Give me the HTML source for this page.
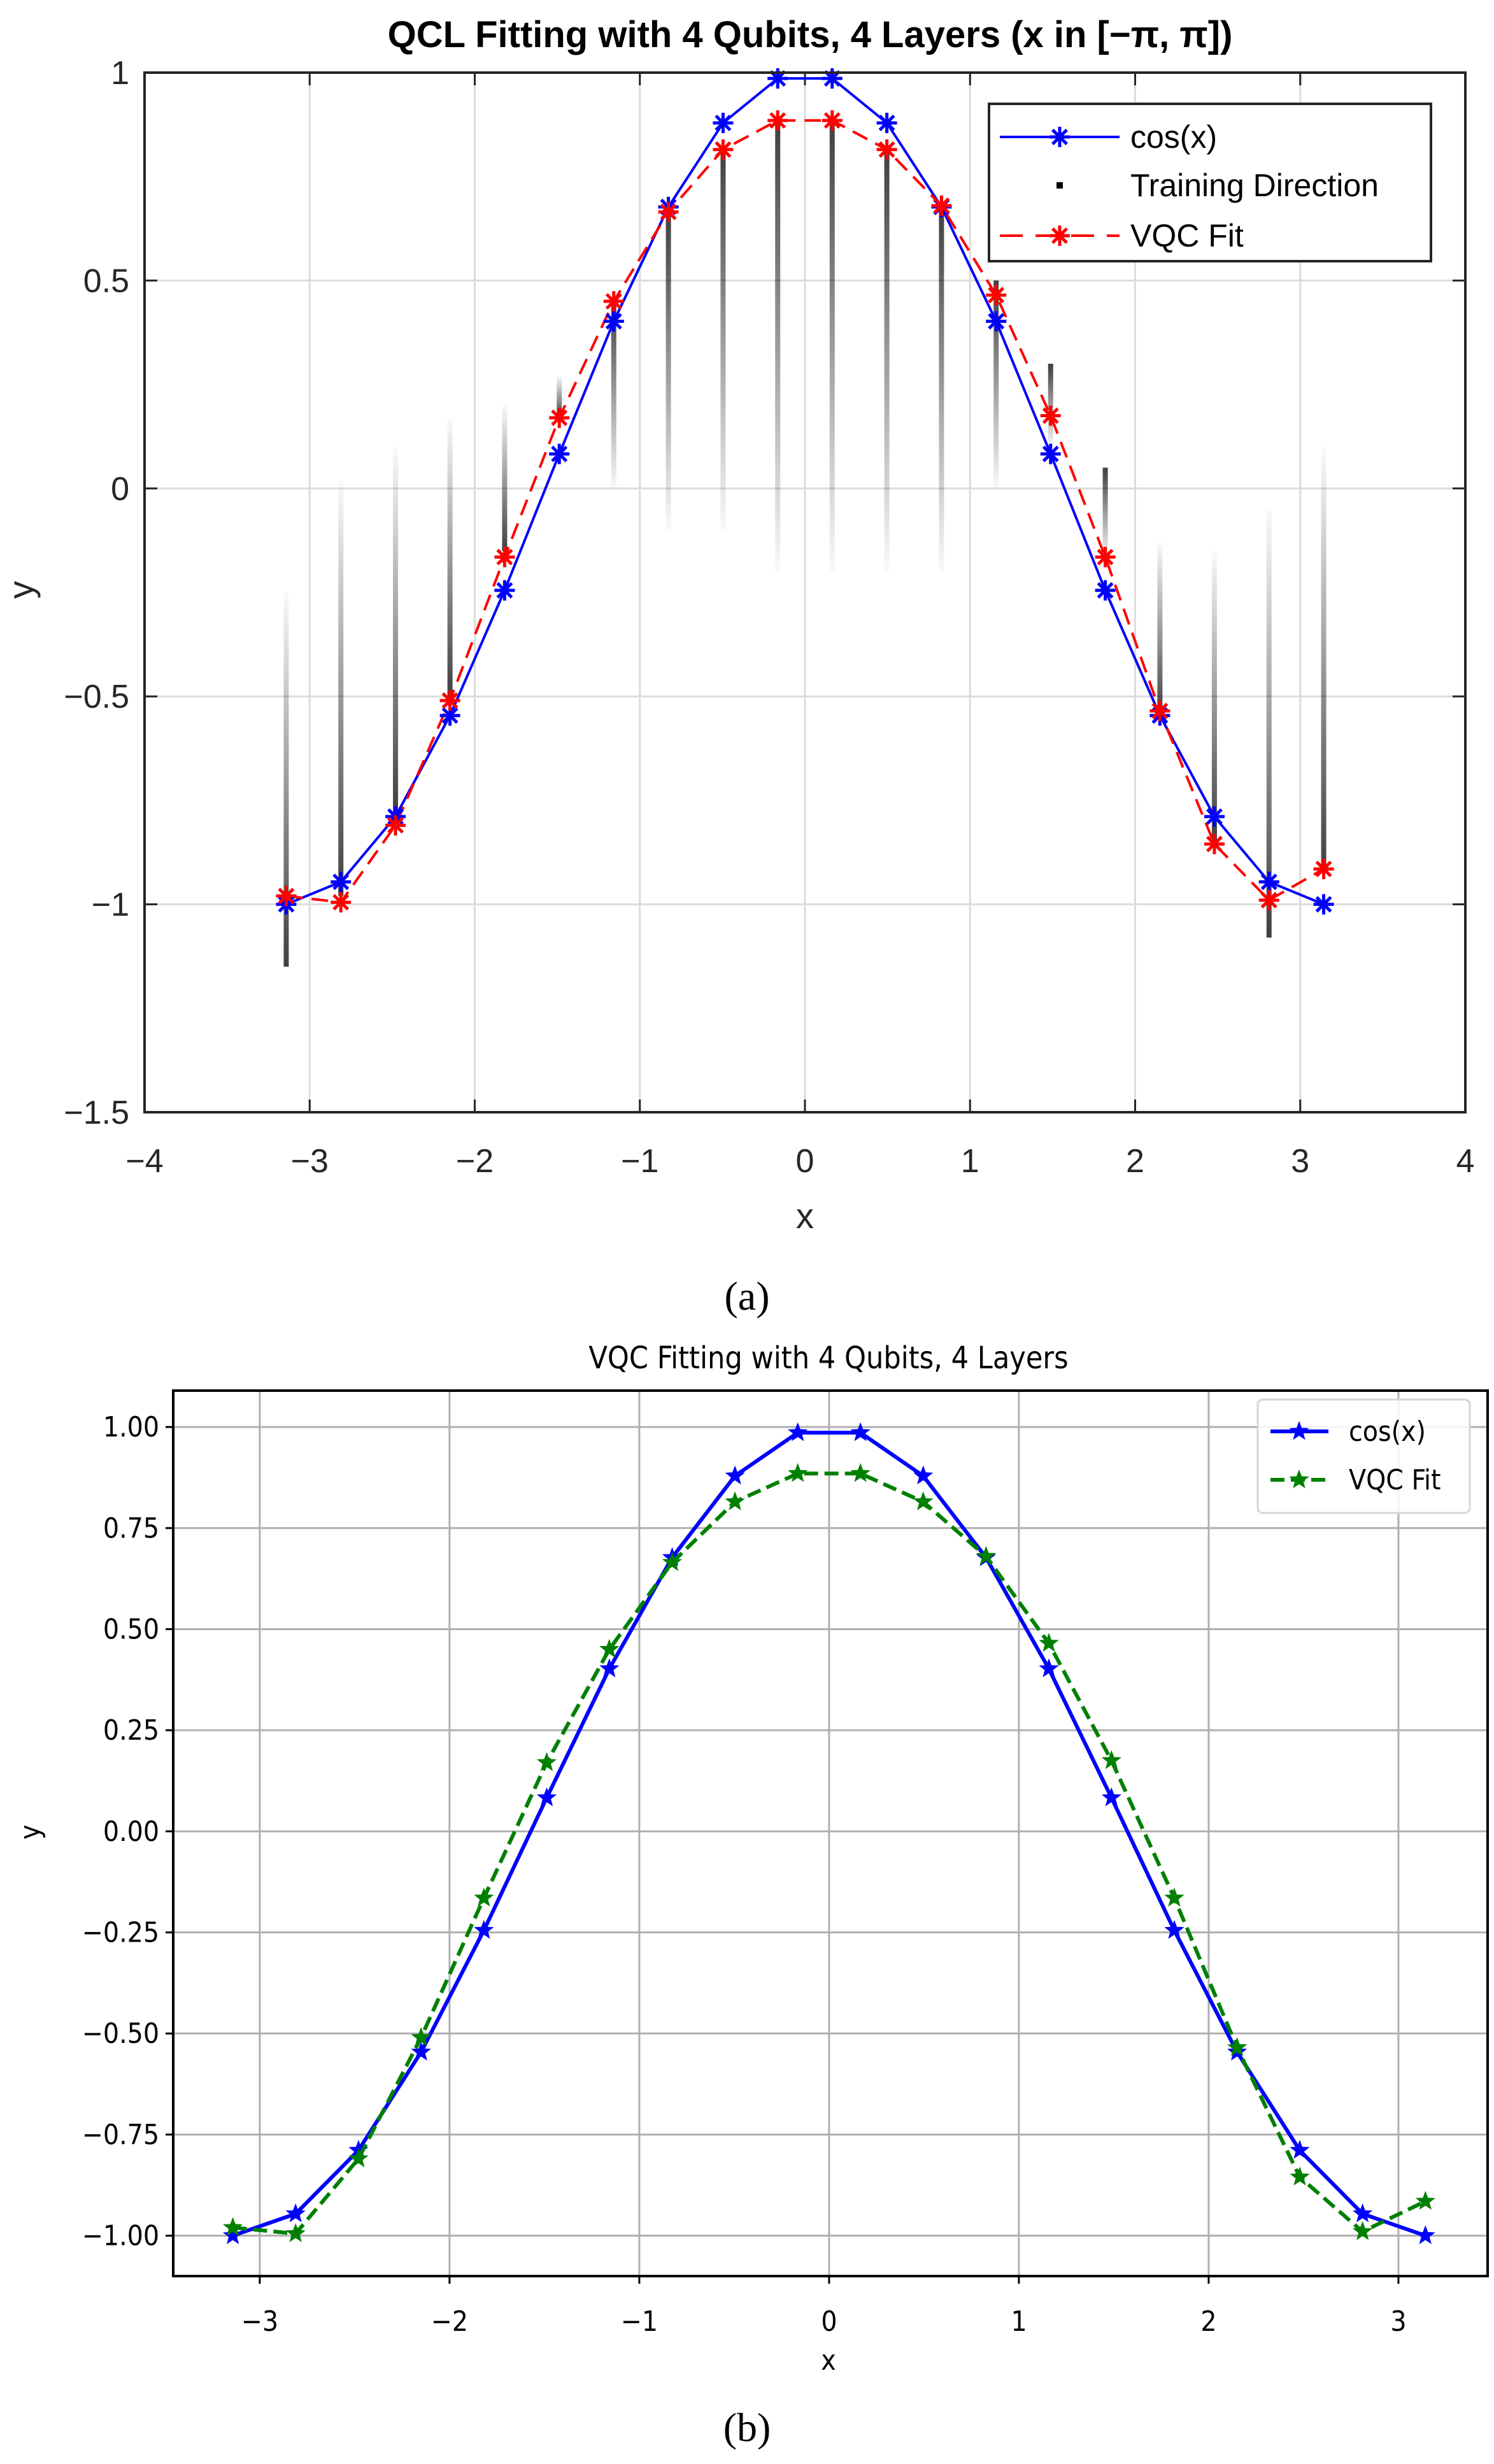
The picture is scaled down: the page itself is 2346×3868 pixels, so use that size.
<!DOCTYPE html>
<html><head><meta charset="utf-8">
<style>
html,body{margin:0;padding:0;background:#fff;}
svg{display:block;}
</style></head>
<body>
<svg id="fig" width="2346" height="3868" viewBox="0 0 2346 3868" xmlns="http://www.w3.org/2000/svg">
<defs>
<linearGradient id="gDown" x1="0" y1="0" x2="0" y2="1"><stop offset="0" stop-color="#000" stop-opacity="0.02"/><stop offset="1" stop-color="#000" stop-opacity="0.75"/></linearGradient>
<linearGradient id="gUp" x1="0" y1="1" x2="0" y2="0"><stop offset="0" stop-color="#000" stop-opacity="0.02"/><stop offset="1" stop-color="#000" stop-opacity="0.75"/></linearGradient>
</defs>
<g id="top"></g>
<g id="bot"></g>
</svg>
<script>
const xs = [-3.142,-2.811,-2.480,-2.150,-1.819,-1.488,-1.158,-0.827,-0.496,-0.165,0.165,0.496,0.827,1.158,1.488,1.819,2.150,2.480,2.811,3.142];
const cosVals = [-1,-0.946,-0.789,-0.546,-0.245,0.083,0.402,0.677,0.879,0.986,0.986,0.879,0.677,0.402,0.083,-0.245,-0.546,-0.789,-0.946,-1];
const fitVals = [-0.98,-0.995,-0.81,-0.51,-0.165,0.17,0.45,0.665,0.815,0.885,0.885,0.815,0.68,0.465,0.175,-0.165,-0.535,-0.855,-0.99,-0.915];
const streakFaint = [-0.25,0.02,0.1,0.17,0.2,0.27,0.0,-0.1,-0.1,-0.2,-0.2,-0.2,-0.2,0.0,0.1,-0.17,-0.13,-0.15,-0.05,0.1];
const streakDark = [-1.15,-0.98,-0.78,-0.5,-0.15,0.17,0.45,0.66,0.81,0.88,0.88,0.81,0.67,0.5,0.3,0.05,-0.55,-0.85,-1.08,-0.92];
const topXTicks = [-4,-3,-2,-1,0,1,2,3,4];
const topXLabels = ["\u22124","\u22123","\u22122","\u22121","0","1","2","3","4"];
const topYTicks = [-1.5,-1,-0.5,0,0.5,1];
const topYLabels = ["\u22121.5","\u22121","\u22120.5","0","0.5","1"];
const botXTicks = [-3,-2,-1,0,1,2,3];
const botXLabels = ["\u22123","\u22122","\u22121","0","1","2","3"];
const botYTicks = [-1,-0.75,-0.5,-0.25,0,0.25,0.5,0.75,1];
const botYLabels = ["\u22121.00","\u22120.75","\u22120.50","\u22120.25","0.00","0.25","0.50","0.75","1.00"];

const NS="http://www.w3.org/2000/svg";
function mk(parent,tag,attrs,text){const e=document.createElementNS(NS,tag);for(const k in attrs)e.setAttribute(k,attrs[k]);if(text!==undefined)e.textContent=text;parent.appendChild(e);return e;}

// ---------- TOP CHART ----------
const T=document.getElementById('top');
const tL=227,tR=2301,tT=114,tB=1746;
const tx=v=>tL+(v+4)/8*(tR-tL);
const ty=v=>tT+(1-v)/2.5*(tB-tT);
const tf='"Liberation Sans", Arial, sans-serif';
let e;
e=mk(T,'rect',{x:tL,y:tT,width:tR-tL,height:tB-tT,fill:'#fff'});


topXTicks.forEach((v,i)=>{
  e=mk(T,'line',{x1:tx(v),x2:tx(v),y1:tT,y2:tB,stroke:'#dcdcdc','stroke-width':3});
  
  
  mk(T,'line',{x1:tx(v),x2:tx(v),y1:tB,y2:tB-20,stroke:'#262626','stroke-width':3});
  mk(T,'line',{x1:tx(v),x2:tx(v),y1:tT,y2:tT+20,stroke:'#262626','stroke-width':3});
  e=mk(T,'text',{x:tx(v),y:1840,'text-anchor':'middle','font-family':tf,'font-size':52,fill:'#262626'},topXLabels[i]);
  
  
});
topYTicks.forEach((v,i)=>{
  e=mk(T,'line',{x1:tL,x2:tR,y1:ty(v),y2:ty(v),stroke:'#dcdcdc','stroke-width':3});
  
  
  mk(T,'line',{x1:tL,x2:tL+20,y1:ty(v),y2:ty(v),stroke:'#262626','stroke-width':3});
  mk(T,'line',{x1:tR,x2:tR-20,y1:ty(v),y2:ty(v),stroke:'#262626','stroke-width':3});
  e=mk(T,'text',{x:tL-24,y:ty(v)+18,'text-anchor':'end','font-family':tf,'font-size':52,fill:'#262626'},topYLabels[i]);
  
  
});
xs.forEach((x,i)=>{
  const a=ty(streakFaint[i]),b=ty(streakDark[i]);
  const y0=Math.min(a,b),h=Math.abs(a-b);
  e=mk(T,'rect',{x:tx(x)-4,y:y0,width:8,height:Math.max(h,1),fill:(b>a)?'url(#gDown)':'url(#gUp)'});
  
  
});
function asterisk(g,cx,cy,r,col,sw){
  const d=`M${cx-r},${cy}H${cx+r}M${cx},${cy-r}V${cy+r}M${cx-r*0.7},${cy-r*0.7}L${cx+r*0.7},${cy+r*0.7}M${cx-r*0.7},${cy+r*0.7}L${cx+r*0.7},${cy-r*0.7}`;
  return mk(g,'path',{d:d,stroke:col,'stroke-width':sw,fill:'none'});
}
e=mk(T,'polyline',{points:xs.map((x,i)=>tx(x)+','+ty(cosVals[i])).join(' '),fill:'none',stroke:'#0000ff','stroke-width':4});


e=mk(T,'polyline',{points:xs.map((x,i)=>tx(x)+','+ty(fitVals[i])).join(' '),fill:'none',stroke:'#ff0000','stroke-width':4,'stroke-dasharray':'26 14'});


xs.forEach((x,i)=>{
  e=asterisk(T,tx(x),ty(cosVals[i]),16,'#0000ff',5);
  
  
});
xs.forEach((x,i)=>{
  e=asterisk(T,tx(x),ty(fitVals[i]),16,'#ff0000',5);
  
  
});
e=mk(T,'rect',{x:tL,y:tT,width:tR-tL,height:tB-tT,fill:'none',stroke:'#262626','stroke-width':4});


e=mk(T,'text',{x:1272,y:74,'text-anchor':'middle','font-family':tf,'font-size':58,'font-weight':'bold',fill:'#000'},'QCL Fitting with 4 Qubits, 4 Layers (x in [\u2212\u03c0, \u03c0])');


e=mk(T,'text',{x:1264,y:1928,'text-anchor':'middle','font-family':tf,'font-size':56,fill:'#262626'},'x');


e=mk(T,'text',{x:52,y:926,'text-anchor':'middle','font-family':tf,'font-size':56,fill:'#262626',transform:'rotate(-90 52 926)'},'y');


const TG=mk(T,'g',{});


mk(TG,'rect',{x:1553,y:163,width:694,height:247,fill:'#fff',stroke:'#262626','stroke-width':4});
mk(TG,'line',{x1:1570,x2:1758,y1:215,y2:215,stroke:'#0000ff','stroke-width':4});
asterisk(TG,1664,215,16,'#0000ff',5);
e=mk(TG,'text',{x:1775,y:232,'font-family':tf,'font-size':50,fill:'#000'},'cos(x)');


mk(TG,'rect',{x:1659,y:286,width:10,height:10,fill:'#000'});
e=mk(TG,'text',{x:1775,y:308,'font-family':tf,'font-size':50,fill:'#000'},'Training Direction');


mk(TG,'line',{x1:1570,x2:1758,y1:370,y2:370,stroke:'#ff0000','stroke-width':4,'stroke-dasharray':'36 20'});
asterisk(TG,1664,370,16,'#ff0000',5);
e=mk(TG,'text',{x:1775,y:387,'font-family':tf,'font-size':50,fill:'#000'},'VQC Fit');


e=mk(T,'text',{x:1173,y:2056,'text-anchor':'middle','font-family':'"Liberation Serif", serif','font-size':64,fill:'#000'},'(a)');



// ---------- BOTTOM CHART ----------
const B=document.getElementById('bot');
const bL=272,bR=2336,bT=2183,bB=3573;
const xmin=-3.456,xmax=3.47,ymin=-1.10,ymax=1.09;
const bx=v=>bL+(v-xmin)/(xmax-xmin)*(bR-bL);
const by=v=>bT+(ymax-v)/(ymax-ymin)*(bB-bT);
const bf='"DejaVu Sans Condensed","DejaVu Sans", sans-serif';
botXTicks.forEach((v,i)=>{
  e=mk(B,'line',{x1:bx(v),x2:bx(v),y1:bT,y2:bB,stroke:'#b0b0b0','stroke-width':3});
  
  
  mk(B,'line',{x1:bx(v),x2:bx(v),y1:bB,y2:bB+12,stroke:'#000','stroke-width':3});
  e=mk(B,'text',{x:bx(v),y:3659,'text-anchor':'middle','font-family':bf,'font-size':44,fill:'#000'},botXLabels[i]);
  
  
});
botYTicks.forEach((v,i)=>{
  e=mk(B,'line',{x1:bL,x2:bR,y1:by(v),y2:by(v),stroke:'#b0b0b0','stroke-width':3});
  
  
  mk(B,'line',{x1:bL,x2:bL-12,y1:by(v),y2:by(v),stroke:'#000','stroke-width':3});
  e=mk(B,'text',{x:bL-22,y:by(v)+15,'text-anchor':'end','font-family':bf,'font-size':44,fill:'#000'},botYLabels[i]);
  
  
});
function star(g,cx,cy,r,col){
  let p=[];for(let k=0;k<10;k++){const rr=k%2?r*0.42:r;const a=-Math.PI/2+k*Math.PI/5;p.push((cx+rr*Math.cos(a)).toFixed(1)+','+(cy+rr*Math.sin(a)).toFixed(1));}
  return mk(g,'polygon',{points:p.join(' '),fill:col,stroke:col,'stroke-width':1});
}
e=mk(B,'polyline',{points:xs.map((x,i)=>bx(x)+','+by(cosVals[i])).join(' '),fill:'none',stroke:'#0000ff','stroke-width':6,'stroke-linejoin':'round'});


xs.forEach((x,i)=>{
  e=star(B,bx(x),by(cosVals[i]),15,'#0000ff');
  
  
});
e=mk(B,'polyline',{points:xs.map((x,i)=>bx(x)+','+by(fitVals[i])).join(' '),fill:'none',stroke:'#008000','stroke-width':6,'stroke-dasharray':'22 10'});


xs.forEach((x,i)=>{
  e=star(B,bx(x),by(fitVals[i]),15,'#008000');
  
  
});
e=mk(B,'rect',{x:bL,y:bT,width:bR-bL,height:bB-bT,fill:'none',stroke:'#000','stroke-width':4});


e=mk(B,'text',{x:1301,y:2148,'text-anchor':'middle','font-family':bf,'font-size':48,fill:'#000'},'VQC Fitting with 4 Qubits, 4 Layers');


e=mk(B,'text',{x:1301,y:3720,'text-anchor':'middle','font-family':bf,'font-size':44,fill:'#000'},'x');


e=mk(B,'text',{x:62,y:2876,'text-anchor':'middle','font-family':bf,'font-size':44,fill:'#000',transform:'rotate(-90 62 2876)'},'y');


const BG=mk(B,'g',{});


mk(BG,'rect',{x:1975,y:2197,width:333,height:178,rx:8,fill:'#fff','fill-opacity':0.85,stroke:'#d5d5d5','stroke-width':3});
mk(BG,'line',{x1:1995,x2:2086,y1:2247,y2:2247,stroke:'#0000ff','stroke-width':6});
star(BG,2040,2247,15,'#0000ff');
e=mk(BG,'text',{x:2118,y:2262,'font-family':bf,'font-size':44,fill:'#000'},'cos(x)');


mk(BG,'line',{x1:1995,x2:2086,y1:2323,y2:2323,stroke:'#008000','stroke-width':6,'stroke-dasharray':'22 10'});
star(BG,2040,2323,15,'#008000');
e=mk(BG,'text',{x:2118,y:2338,'font-family':bf,'font-size':44,fill:'#000'},'VQC Fit');


e=mk(B,'text',{x:1173,y:3832,'text-anchor':'middle','font-family':'"Liberation Serif", serif','font-size':64,fill:'#000'},'(b)');


</script>
</body></html>
